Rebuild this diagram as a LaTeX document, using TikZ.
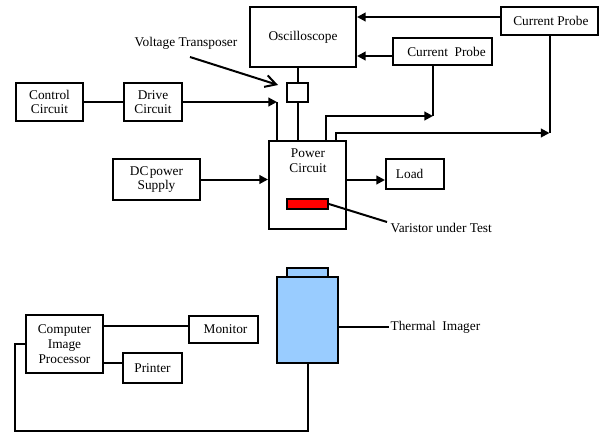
\documentclass[tikz,border=0pt]{standalone}
\usepackage{fontspec}
\setmainfont{Liberation Serif}
\usetikzlibrary{calc,arrows.meta}
\definecolor{varred}{HTML}{FF0000}
\definecolor{camblue}{HTML}{99CCFF}
\begin{document}
\begin{tikzpicture}[x=0.75pt,y=-0.75pt,
  every node/.style={font=\fontsize{10}{11}\selectfont},
  box/.style={draw,line width=1.5pt,inner sep=0pt,align=center},
  lbl/.style={inner sep=1pt,align=center},
  ln/.style={line width=1.5pt},
  arr/.style={line width=1.5pt,-{Triangle[length=6.5pt,width=6.5pt]}},
  openarr/.style={line width=1.5pt,-{Straight Barb[length=8pt,width=9pt,line width=1.5pt]}}]
\useasboundingbox (0,0) rectangle (602,433);
% top part
\node[box,minimum width={106*0.75pt},minimum height={60*0.75pt}] (osc) at (303,37) {Oscilloscope};
\node[box,minimum width={97*0.75pt},minimum height={28*0.75pt}] (cp1) at (549.5,21) {\hspace*{2pt}Current Probe};
\node[box,minimum width={99*0.75pt},minimum height={27*0.75pt}] (cp2) at (442.5,51.5) {\hspace*{6pt}Current\ \ Probe};
\node[box,minimum width={21*0.75pt},minimum height={19*0.75pt}] (vt) at (297.5,92.5) {};
\node[box,minimum width={77*0.75pt},minimum height={88*0.75pt}] (pc) at (307.5,185) {};
\node[lbl] (pctext) at (308,161) {Power\\Circuit};
\node[box,fill=varred,minimum width={41*0.75pt},minimum height={10*0.75pt}] (var) at (307.5,204) {};
\node[box,minimum width={58*0.75pt},minimum height={30*0.75pt}] (load) at (415,174) {Load\hspace*{8pt}};
\node[box,minimum width={67*0.75pt},minimum height={38*0.75pt}] (ctrl) at (49.5,102) {Control\\Circuit};
\node[box,minimum width={58*0.75pt},minimum height={38*0.75pt}] (drive) at (153,102) {Drive\\Circuit};
\node[box,minimum width={87*0.75pt},minimum height={41*0.75pt}] (dc) at (156.5,179.5) {DC\hspace{1pt}power\\Supply};
\node[lbl] (vtlabel) at (186,43) {Voltage Transposer};
\node[lbl,anchor=west] (varlabel) at (389,227.5) {Varistor under Test};
\coordinate (vtA) at (190,57);
\coordinate (vtB) at (278,85);
\coordinate (varend) at (387,222);
\coordinate (dj) at (277,102);
\coordinate (j1) at (433,116);
\coordinate (j2) at (550,133);
% connectors top
\draw[arr] ($(cp1.west)+(0,-4)$) -- ($(osc.east|-cp1.west)+(0,-4)$);
\draw[arr] ($(cp2.west)+(0,4.5)$) -- ($(osc.east|-cp2.west)+(0,4.5)$);
\draw[ln] (vt.north) -- (vt.north |- osc.south);
\draw[ln] (vt.south) -- (vt.south |- pc.north);
\draw[ln] (ctrl.east) -- (drive.west);
\draw[arr] (drive.east) -- (dj);
\draw[ln] (dj) -- (dj |- pc.north);
\draw[arr] (dc.east) -- (pc.west |- dc.east);
\draw[arr] ($(pc.east)+(0,-5)$) -- ($(load.west)+(0,6)$);
\draw[ln] (var.east) -- (varend);
\draw[openarr] (vtA) -- (vtB);
\draw[ln] (j1 |- cp2.south) -- (j1);
\draw[arr] ($(pc.north)+(18.5,0)$) |- (j1);
\draw[ln] (cp1.south) -- (cp1.south |- j2);
\draw[arr] ($(pc.north)+(28.5,0)$) |- (cp1.south |- j2);
% bottom part
\node[box,fill=camblue,minimum width={41*0.75pt},minimum height={9*0.75pt}] (cap) at (307.5,272.5) {};
\node[box,fill=camblue,minimum width={61*0.75pt},minimum height={86*0.75pt}] (cam) at (307.5,320) {};
\node[lbl,anchor=west] (tlabel) at (389,327) {Thermal\ \ Imager};
\node[box,minimum width={77*0.75pt},minimum height={58*0.75pt}] (comp) at (64.5,344) {Computer\\Image\\Processor};
\node[box,minimum width={69*0.75pt},minimum height={27*0.75pt}] (mon) at (223.5,329.5) {\hspace*{3pt}Monitor};
\node[box,minimum width={59*0.75pt},minimum height={30*0.75pt}] (prn) at (152.5,368) {Printer};
\coordinate (lb) at (15,431);
\draw[ln] ($(cam.east)+(0,7)$) -- (tlabel.west);
\draw[ln] (cam.south) |- (lb) |- (comp.west);
\draw[ln] ($(comp.east)+(0,-18)$) -- (mon.west |- {$(comp.east)+(0,-18)$});
\draw[ln] ($(comp.east)+(0,19)$) -- (prn.west |- {$(comp.east)+(0,19)$});
\end{tikzpicture}
\end{document}
